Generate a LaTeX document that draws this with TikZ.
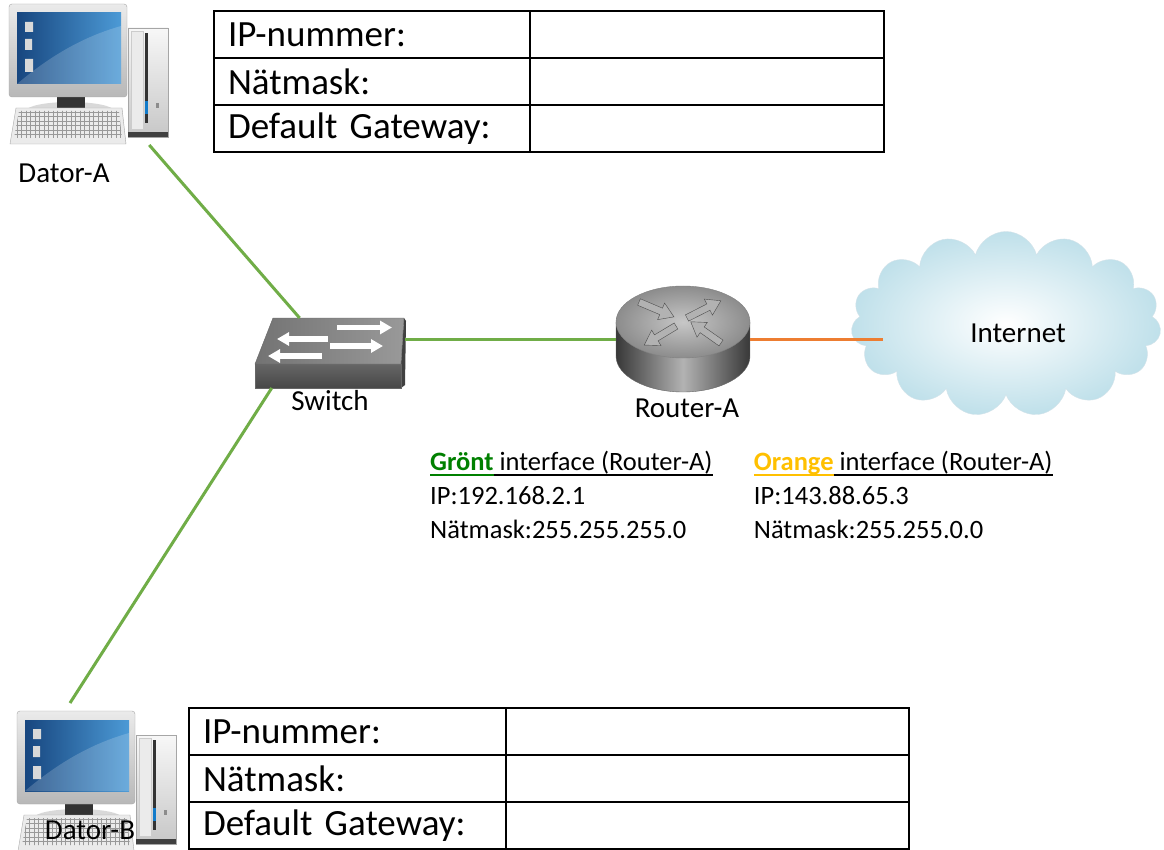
\documentclass[tikz,border=0pt]{standalone}
\usepackage{fontspec}
\setmainfont{Carlito}
\usetikzlibrary{positioning,matrix,shapes.symbols,arrows.meta}

\definecolor{lanGreen}{HTML}{70AD47}
\definecolor{wanOrange}{HTML}{ED7D31}
\definecolor{grontText}{HTML}{008000}
\definecolor{orangeText}{HTML}{FFC000}
\definecolor{screenDark}{HTML}{17467F}
\definecolor{screenLight}{HTML}{4C9AD6}
\definecolor{cloudBlue}{HTML}{BFE0EA}
\definecolor{cloudEdge}{HTML}{D3E3EA}

\newcommand{\tabfont}{\fontsize{37}{44}\selectfont}
\newcommand{\labfont}{\fontsize{29}{35}\selectfont}
\newcommand{\infofont}{\fontsize{26.5}{34}\selectfont}
\newcommand{\ifaceul}[1]{\sbox0{#1}\rlap{\rule[-0.2em]{\wd0}{0.06em}}\usebox0}

\tikzset{
  swArrow/.style = {draw=white, line width=5.5pt, -{Triangle[length=12pt, width=13pt]}},
  pc/.pic = {
    % tower
    \draw[black!35, top color=black!3, bottom color=black!22] (120,24) rectangle (160,133);
    \draw[black!20, fill=black!8] (123,27) rectangle (135,125);
    \fill[black!80] (137,29) rectangle (139.5,119);
    \fill[cyan!60!blue] (137,97) rectangle (139.5,110);
    \fill[black!45] (148,99) rectangle (151,104);
    \fill[black!75] (120,128) rectangle (160,133);
    % stand
    \fill[black!15] (62,107) ellipse [x radius=44, y radius=9];
    \fill[black!80] (49,92) rectangle (77,104);
    % monitor
    \draw[black!35, rounded corners=3pt, top color=black!8, bottom color=black!28] (1,0) rectangle (119,93);
    \fill[left color=screenDark, right color=screenLight] (9,9) rectangle (113,80);
    \fill[white, opacity=.18] (9,80) .. controls (50,45) and (85,30) .. (113,22) -- (113,80) -- cycle;
    \fill[white!85!black] (17,18) rectangle (25,28) (17,35) rectangle (24,46) (17,55) rectangle (25,68);
    % keyboard
    \draw[black!35, fill=black!8] (8,104) -- (114,104) -- (118,140) -- (2,140) -- cycle;
    \begin{scope}
      \clip (11,107) -- (111,107) -- (114,134) -- (6,134) -- cycle;
      \draw[black!40, step=4.5pt] (0,140) grid (120,100);
    \end{scope}
  },
  switchbox/.pic = {
    \fill[black!75] (146,46) -- (149,0) -- (151,3) -- (150,67) -- (146,70) -- cycle;
    \draw[black!60, top color=black!60, bottom color=black!72] (0,46) rectangle (146,70);
    \draw[black!60, left color=black!55, right color=black!40] (18,0) -- (149,0) -- (146,46) -- (0,46) -- cycle;
    \foreach \xa/\xb/\yc in {82/137/9.5, 73/22/21, 75/128/28, 67/13/38}
      \draw[swArrow] (\xa,\yc) -- (\xb,\yc);
  },
  routerdisk/.pic = {
    \path[draw=black!60, left color=black!78, right color=black!78, middle color=black!30]
      (-67,-17) -- (-67,17) arc[start angle=180, end angle=0, x radius=67, y radius=36] -- (67,-17);
    \draw[black!50, inner color=black!22, outer color=black!45] (0,-17) ellipse [x radius=67, y radius=36];
    \foreach \tx/\ty/\ang/\len in {-44/-37/-23/38, 4/-21/27/38, -7/-13/-149/37, 38/4/145/37}
      \draw[black!70, fill=black!30, shift={(\tx,\ty)}, rotate=\ang]
        (0,-3.5) -- ({\len-14},-3.5) -- ({\len-14},-9) -- (\len,0) -- ({\len-14},9) -- ({\len-14},3.5) -- (0,3.5) -- cycle;
  }
}

\begin{document}
\begin{tikzpicture}[
    x=1pt, y=-1pt,
    lbl/.style = {font=\labfont, inner sep=0},
    device/.style = {inner sep=0, outer sep=0},
    lan/.style = {draw=lanGreen, line width=3pt},
    wan/.style = {draw=wanOrange, line width=3pt},
    iface/.style = {font=\infofont, align=left, inner sep=0},
    infotab/.style = {
      matrix of nodes,
      nodes in empty cells,
      inner sep=0,
      column sep=-1.6pt, row sep=-1.6pt,
      nodes = {draw, line width=1.6pt, minimum height=47pt, inner xsep=14pt,
               font=\tabfont, align=left, anchor=center}
    }
  ]

  \useasboundingbox (0,0) rectangle (1164,850);
  \fill[white] (0,0) rectangle (1164,850);

  % devices
  \node[device, minimum width=160pt, minimum height=141pt] (pcA) at (88,74.5) {};
  \pic at (pcA.north west) {pc};
  \node[lbl] (labA) at (64,173) {Dator-A};

  \node[device, minimum width=150pt, minimum height=70pt] (switch) at (330,353) {};
  \pic at (switch.north west) {switchbox};
  \node[lbl, below=2pt of switch] (labSw) {Switch};

  \node[device, minimum width=134pt, minimum height=106pt] (router) at (683,339) {};
  \pic at (router.center) {routerdisk};
  \node[lbl, below=7pt of router, xshift=4pt] (labRt) {Router-A};

  \node[cloud, cloud puffs=15, cloud ignores aspect, minimum width=310pt, minimum height=185pt,
        draw=cloudEdge, inner color=white, outer color=cloudBlue] (internet) at (1006,324) {};
  \node[lbl] (labNet) at ([xshift=12pt, yshift=-9pt]internet.center) {Internet};

  \node[device, minimum width=160pt, minimum height=147pt] (pcB) at (96,776.5) {};
  \pic at ([yshift=-8pt]pcB.north west) {pc};
  \node[lbl] (labB) at (90,830) {Dator-B};

  % cables
  \draw[lan] (pcA) -- (switch);
  \draw[lan] (switch.211) -- ([xshift=-26pt]pcB.north);
  \draw[lan] (router.west) -- (router.west -| switch.east);
  \draw[wan] (router.east) -- ([xshift=30pt]router.east -| internet.west);

  % address tables
  \matrix (tabA) [infotab, anchor=north west,
                  column 1/.style={nodes={text width=288pt}},
                  column 2/.style={nodes={text width=326pt}}] at (213,10) {
    IP-nummer: & \\
    Nätmask: & \\
    Default Gateway: & \\
  };
  \matrix (tabB) [infotab, anchor=north west,
                  column 1/.style={nodes={text width=289pt}},
                  column 2/.style={nodes={text width=375pt}}] at (188,707) {
    IP-nummer: & \\
    Nätmask: & \\
    Default Gateway: & \\
  };

  % router interfaces
  \node[iface, anchor=north west] (ifGreen) at (430,451)
    {\textcolor{grontText}{\ifaceul{\textbf{Grönt}}}\ifaceul{\ interface (Router-A)}\\
     IP:192.168.2.1\\
     Nätmask:255.255.255.0};
  \node[iface, right=41pt of ifGreen] (ifOrange)
    {\textcolor{orangeText}{\ifaceul{\textbf{Orange}}}\ifaceul{\ interface (Router-A)}\\
     IP:143.88.65.3\\
     Nätmask:255.255.0.0};

\end{tikzpicture}
\end{document}
